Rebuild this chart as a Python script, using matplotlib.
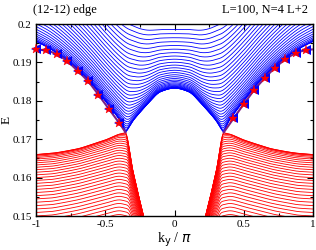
import numpy as np
import matplotlib
matplotlib.use("Agg")
import matplotlib.pyplot as plt
from matplotlib.ticker import MultipleLocator

# ---------------- data ----------------
# knot positions (|k_y|/pi), curves are symmetric in k_y
k_knots = [0.0, 0.1, 0.2, 0.25, 0.3, 0.355, 0.4, 0.5, 0.6, 0.7, 0.8, 0.9, 1.0]
k_dirac = 0.355
# lowest blue band and the centre of the upper (blue) cone
blue_bottom = [0.1833, 0.1824, 0.1790, 0.1770, 0.1748, 0.1718, 0.1752, 0.1800,
               0.1845, 0.1882, 0.1912, 0.1936, 0.1955]
blue_center = [0.1640, 0.1650, 0.1675, 0.1690, 0.1705, 0.1718, 0.1730, 0.1765,
               0.1805, 0.1844, 0.1880, 0.1910, 0.1931]
# highest red band and the centre of the lower (red) cone
red_top = [0.1300, 0.1340, 0.1465, 0.1538, 0.1616, 0.1718, 0.1713, 0.1698,
           0.1686, 0.1675, 0.1668, 0.1663, 0.1660]
red_center = [0.1610, 0.1630, 0.1670, 0.1695, 0.1712, 0.1718, 0.1721, 0.1713,
              0.1704, 0.1695, 0.1688, 0.1682, 0.1680]
# transverse offsets of the band families
blue_offsets = [0.0287 * (j / 32) ** 1.5 for j in range(33)]
red_offsets = [0.032 * (j / 40) ** 1.35 for j in range(41)]

# edge state (symbols)
edge_k_left = [-1.0, -0.925, -0.85, -0.775, -0.7, -0.625, -0.55, -0.475, -0.4]
edge_E_left = [0.1934, 0.1931, 0.1921, 0.1903, 0.1878, 0.1851, 0.1816, 0.1779, 0.1743]
edge_k_right = [0.425, 0.5, 0.575, 0.65, 0.725, 0.8, 0.875, 0.95]
edge_E_right = [0.1754, 0.1792, 0.1828, 0.1859, 0.1886, 0.1908, 0.1924, 0.1932]
edge_end_E = 0.1934
dirac_E = 0.1718


def pchip(x, y, xq):
    x = np.asarray(x, float); y = np.asarray(y, float)
    h = np.diff(x); delta = np.diff(y) / h
    n = len(x); d = np.zeros(n)
    for i in range(1, n - 1):
        if delta[i - 1] * delta[i] > 0:
            w1 = 2 * h[i] + h[i - 1]; w2 = h[i] + 2 * h[i - 1]
            d[i] = (w1 + w2) / (w1 / delta[i - 1] + w2 / delta[i])
    d[0] = delta[0]; d[-1] = delta[-1]
    idx = np.clip(np.searchsorted(x, xq) - 1, 0, n - 2)
    t = (xq - x[idx]) / h[idx]
    h00 = 2 * t**3 - 3 * t**2 + 1; h10 = t**3 - 2 * t**2 + t
    h01 = -2 * t**3 + 3 * t**2; h11 = t**3 - t**2
    return (h00 * y[idx] + h10 * h[idx] * d[idx] + h01 * y[idx + 1]
            + h11 * h[idx] * d[idx + 1])


def mirror(vals):
    v = list(vals)
    return v[::-1] + v[1:]


kfull = np.array([-x for x in k_knots[::-1]] + k_knots[1:])
sgn = np.sign(k_dirac - np.abs(kfull))

Tb = np.array(mirror(blue_center))
Gb = (np.array(mirror(blue_bottom)) - Tb) * sgn
Tr = np.array(mirror(red_center))
Gr = (Tr - np.array(mirror(red_top))) * sgn

k = np.linspace(-1, 1, 1601)
Tb_k = pchip(kfull, Tb, k); Gb_k = pchip(kfull, Gb, k)
Tr_k = pchip(kfull, Tr, k); Gr_k = pchip(kfull, Gr, k)

# ---------------- figure ----------------
plt.rcParams['font.family'] = ['Liberation Serif', 'DejaVu Serif']
fig = plt.figure(figsize=(3.16, 2.5), dpi=100)
ax = fig.add_axes([0.114, 0.136, 0.877, 0.768])

for m in red_offsets:
    ax.plot(k, Tr_k - np.sqrt(Gr_k**2 + m**2), color='#ff0000', lw=0.6)
for m in blue_offsets:
    ax.plot(k, Tb_k + np.sqrt(Gb_k**2 + m**2), color='#0000ff', lw=0.6)

# edge state line
kl = np.array(edge_k_left + [-k_dirac]); El = np.array(edge_E_left + [dirac_E])
kr = np.array([k_dirac] + edge_k_right + [1.0]); Er = np.array([dirac_E] + edge_E_right + [edge_end_E])
xl = np.linspace(kl[0], kl[-1], 200); xr = np.linspace(kr[0], kr[-1], 200)
ax.plot(xl, pchip(kl, El, xl), color='#7a1f86', lw=1.5, zorder=5)
ax.plot(xr, pchip(kr, Er, xr), color='#7a1f86', lw=1.5, zorder=5)

ek = edge_k_left + edge_k_right; eE = edge_E_left + edge_E_right
ax.plot(ek, eE, ls='none', marker='<', ms=6.5, color='#0000ff', mew=0,
        zorder=6, clip_on=False)
ax.plot(ek, eE, ls='none', marker='*', ms=6.5, color='#ff0000', mew=0.3,
        zorder=7, clip_on=False)

ax.set_xlim(-1, 1)
ax.set_ylim(0.15, 0.2)
ax.xaxis.set_minor_locator(MultipleLocator(0.25))
ax.yaxis.set_minor_locator(MultipleLocator(0.005))
ax.set_xticks([-1, -0.5, 0, 0.5, 1])
ax.set_xticklabels(['-1', '-0.5', '0', '0.5', '1'])
ax.set_yticks([0.15, 0.16, 0.17, 0.18, 0.19, 0.2])
ax.set_yticklabels(['0.15', '0.16', '0.17', '0.18', '0.19', '0.2'])
ax.tick_params(which='both', direction='in', top=True, right=True, labelsize=8, pad=3)
ax.tick_params(which='major', length=4, width=0.8)
ax.tick_params(which='minor', length=2, width=0.8)
for s in ax.spines.values():
    s.set_linewidth(1.0)

ax.set_xlabel(r'k$_{\rm y}$ / $\pi$', fontsize=10, labelpad=1)
ax.set_ylabel('E', fontsize=9.5)
ax.yaxis.set_label_coords(-0.085, 0.5)
fig.text(0.105, 0.962, '(12-12) edge', fontsize=9, ha='left', va='center')
fig.text(0.975, 0.962, 'L=100, N=4 L+2', fontsize=9, ha='right', va='center')

fig.savefig('out.png', dpi=100)
